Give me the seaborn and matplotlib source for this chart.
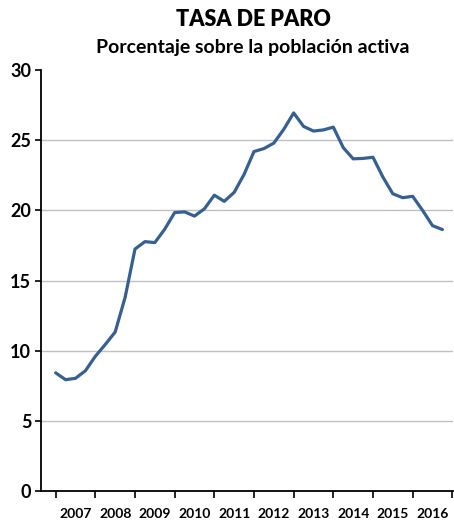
import matplotlib
matplotlib.use("Agg")
import matplotlib.pyplot as plt
import seaborn as sns
import numpy as np
import pandas as pd

# Data: Spain unemployment rate (quarterly, %), 2007Q1 - 2016Q4
years = ["2007", "2008", "2009", "2010", "2011", "2012", "2013", "2014", "2015", "2016"]
quarters = ["T1", "T2", "T3", "T4"]
tasa_paro = [
    8.42, 7.93, 8.03, 8.57,
    9.60, 10.44, 11.33, 13.79,
    17.24, 17.77, 17.70, 18.66,
    19.84, 19.89, 19.59, 20.11,
    21.08, 20.64, 21.28, 22.56,
    24.19, 24.40, 24.79, 25.77,
    26.94, 25.98, 25.65, 25.73,
    25.93, 24.47, 23.67, 23.70,
    23.78, 22.37, 21.18, 20.90,
    21.00, 20.00, 18.91, 18.63,
]
y_ticks = [0, 5, 10, 15, 20, 25, 30]
title = "TASA DE PARO"
subtitle = "Porcentaje sobre la población activa"

periodo = [f"{y}{q}" for y in years for q in quarters]
df = pd.DataFrame({"periodo": periodo, "tasa": tasa_paro})
df["pos"] = np.arange(len(df)) / 4.0

sns.set_theme(style="white")
plt.rcParams["font.family"] = ["Lato", "DejaVu Sans"]
plt.rcParams["text.color"] = "black"
plt.rcParams["xtick.color"] = "black"
plt.rcParams["ytick.color"] = "black"

fig = plt.figure(figsize=(4.54, 5.23), dpi=100)
ax = fig.add_axes([41 / 454, 32 / 523, (452.7 - 41) / 454, (491 - 70) / 523])

sns.lineplot(data=df, x="pos", y="tasa", ax=ax, color="#376092", linewidth=2.3)

ax.set_ylim(0, 30)
ax.set_xlim(-0.37, len(years) + 0.01)
ax.set_yticks(y_ticks)
ax.set_yticklabels([str(v) for v in y_ticks], fontsize=13, fontweight="bold", color="black")
ax.set_xticks(np.arange(len(years) + 1))
ax.set_xticklabels([])
ax.set_xticks(np.arange(len(years)) + 0.5, minor=True)
ax.set_xticklabels(years, minor=True, fontsize=10, fontweight="bold", color="black")
ax.tick_params(axis="x", which="minor", length=0, pad=12)
ax.tick_params(axis="x", which="major", length=5, width=1.2, direction="out", color="black", bottom=True)
ax.tick_params(axis="y", length=4, width=1.2, direction="out", color="black", left=True, pad=3)
ax.set_xlabel("")
ax.set_ylabel("")

ax.yaxis.grid(True, color="#c0c0c0", linewidth=1)
ax.xaxis.grid(False)
ax.set_axisbelow(True)
for gl, v in zip(ax.yaxis.get_gridlines(), y_ticks):
    if v in (0, 30):
        gl.set_visible(False)

for s in ["top", "right"]:
    ax.spines[s].set_visible(False)
for s in ["left", "bottom"]:
    ax.spines[s].set_color("black")
    ax.spines[s].set_linewidth(1.3)

fig.text(253 / 454, 1 - 19 / 523, title, ha="center", va="center", fontsize=15.5, fontweight="heavy", color="black")
fig.text(253 / 454, 1 - 47 / 523, subtitle, ha="center", va="center", fontsize=14, fontweight="bold", color="black")

fig.savefig("out.png", dpi=100)
